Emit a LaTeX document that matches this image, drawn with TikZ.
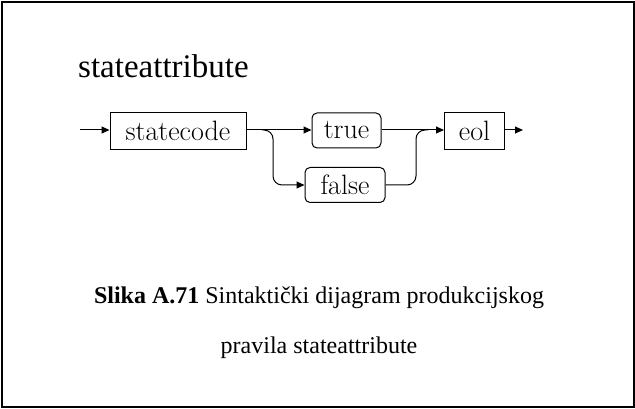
\documentclass[tikz,border=0pt]{standalone}
\usepackage{fontspec}
\usepackage{tikz}
\usetikzlibrary{arrows.meta,positioning}
\newfontfamily\capfont{Liberation Serif}
\tikzset{
  termbox/.style={draw,line width=1pt,rounded corners=5pt,inner sep=0pt,minimum height=35pt,
    font=\fontsize{28}{32}\selectfont},
  nontermbox/.style={draw,line width=1pt,inner sep=0pt,minimum height=37pt,
    font=\fontsize{28}{32}\selectfont},
  arrow/.style={-{Triangle[length=8pt,width=7pt]},line width=1pt},
  path/.style={line width=1pt,rounded corners=9pt},
  titlestyle/.style={font={\capfont\fontsize{33}{38}\selectfont},anchor=base west,inner sep=0pt},
  captionstyle/.style={font={\capfont\fontsize{24}{28}\selectfont},anchor=base,inner sep=0pt}
}
\begin{document}
\begin{tikzpicture}[x=1pt,y=-1pt]
  \useasboundingbox (0,0) rectangle (635,409);
  \draw[line width=2pt] (2,2) rectangle (634,407);
  % rule name
  \node[titlestyle] (title) at (78,78) {stateattribute};
  % diagram
  \coordinate (start) at (80,130);
  \node[nontermbox,minimum width=136pt] (statecode) at (178,131) {statecode};
  \node[termbox,minimum width=69pt] (true) at (346.5,130.5) {true};
  \node[termbox,minimum width=80pt] (false) at (345,185) {false};
  \node[nontermbox,minimum width=60pt] (eol) at (474.5,131) {eol};
  \coordinate (split) at (262,130);
  \coordinate (join) at (416,130);
  \coordinate (finish) at (523,130);
  \draw[arrow] (start) -- (statecode.west |- start);
  \draw[arrow] (statecode.east |- start) -- (true.west |- start);
  \draw[path,arrow] (split) -| (273,185) -- (false.west);
  \draw[arrow] (true.east |- start) -- (eol.west |- start);
  \draw[path] (false.east) -| (join) -- (428,130);
  \draw[arrow] (eol.east |- start) -- (finish);
  % caption
  \node[captionstyle] (cap1) at (319,303) {\textbf{Slika A.71} Sintaktički dijagram produkcijskog};
  \node[captionstyle] (cap2) at (319,353) {pravila stateattribute};
\end{tikzpicture}
\end{document}
